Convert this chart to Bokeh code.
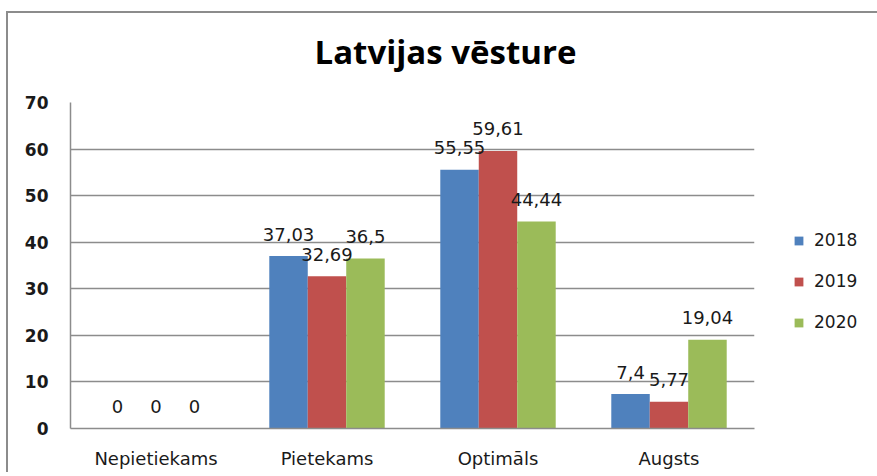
from bokeh.plotting import figure
from bokeh.models import ColumnDataSource, FactorRange, Legend, LegendItem, LabelSet, Title, FixedTicker
from bokeh.core.properties import value
from bokeh.transform import dodge
from bokeh.embed import file_html
from bokeh.resources import INLINE

categories = ["Nepietiekams", "Pietekams", "Optimāls", "Augsts"]
years = ["2018", "2019", "2020"]
v2018 = [0, 37.03, 55.55, 7.4]
v2019 = [0, 32.69, 59.61, 5.77]
v2020 = [0, 36.5, 44.44, 19.04]
y_ticks = [0, 10, 20, 30, 40, 50, 60, 70]
title_text = "Latvijas vēsture"

colors = ["#4F81BD", "#C0504D", "#9BBB59"]
series = [v2018, v2019, v2020]

def fmt(v):
    s = ("%.2f" % v).rstrip("0").rstrip(".")
    return s.replace(".", ",")

p = figure(x_range=FactorRange(*categories, range_padding=0), y_range=(0, 70),
           frame_width=684, frame_height=326, output_backend="svg", toolbar_location=None,
           min_border_left=62, min_border_right=0, min_border_top=89, min_border_bottom=44)
p.styles = {"border-left": "2px solid #8c8c8c", "border-top": "2px solid #8c8c8c",
            "margin-left": "6px", "margin-top": "11px"}

# spacer between frame and title (pushes the title up)
spacer = Title(text=" ", text_font_size="1px", standoff=26)
p.add_layout(spacer, "above")
main_title = Title(text=title_text, align="left", offset=244, standoff=0,
                   text_font="Open Sans", text_font_size="33px", text_font_style="bold",
                   text_color="#000000")
p.add_layout(main_title, "above")

bw = 0.225
offsets = [-bw, 0, bw]
items = []
for yr, vals, col, off in zip(years, series, colors, offsets):
    src = ColumnDataSource(dict(cat=categories, val=vals, lab=[fmt(v) for v in vals]))
    r = p.vbar(x=dodge("cat", off, range=p.x_range), top="val", width=bw, source=src,
               fill_color=col, line_color=None)
    items.append(LegendItem(label=yr, renderers=[r]))
    lbl = LabelSet(x=dodge("cat", off, range=p.x_range), y="val", text="lab", source=src,
                   text_align="center", text_baseline="middle", y_offset=22,
                   text_font=value("DejaVu Sans"), text_font_size="18px", text_color="#1a1a1a")
    p.add_layout(lbl)

legend = Legend(items=items, location=(39, 96), spacing=21, glyph_width=11, glyph_height=11,
                label_text_font="DejaVu Sans", label_text_font_size="17px",
                label_text_color="#1a1a1a", border_line_color=None, label_standoff=10,
                padding=0, margin=0)
p.add_layout(legend, "right")

p.xgrid.grid_line_color = None
p.ygrid.grid_line_color = "#8c8c8c"
p.ygrid.grid_line_width = 1.5
p.yaxis.ticker = FixedTicker(ticks=y_ticks)
p.outline_line_color = None

for ax in (p.xaxis, p.yaxis):
    ax.axis_line_color = "#8c8c8c"
    ax.axis_line_width = 1.5
    ax.major_tick_line_color = None
    ax.minor_tick_line_color = None
    ax.major_label_text_color = "#1a1a1a"

p.yaxis.major_label_text_font = "DejaVu Sans"
p.yaxis.major_label_text_font_size = "17px"
p.yaxis.major_label_text_font_style = "bold"
p.yaxis.major_label_standoff = 16
p.xaxis.major_label_text_font = "DejaVu Sans"
p.xaxis.major_label_text_font_size = "18px"
p.xaxis.major_label_standoff = 13

open("out.html", "w").write(file_html(p, INLINE))
